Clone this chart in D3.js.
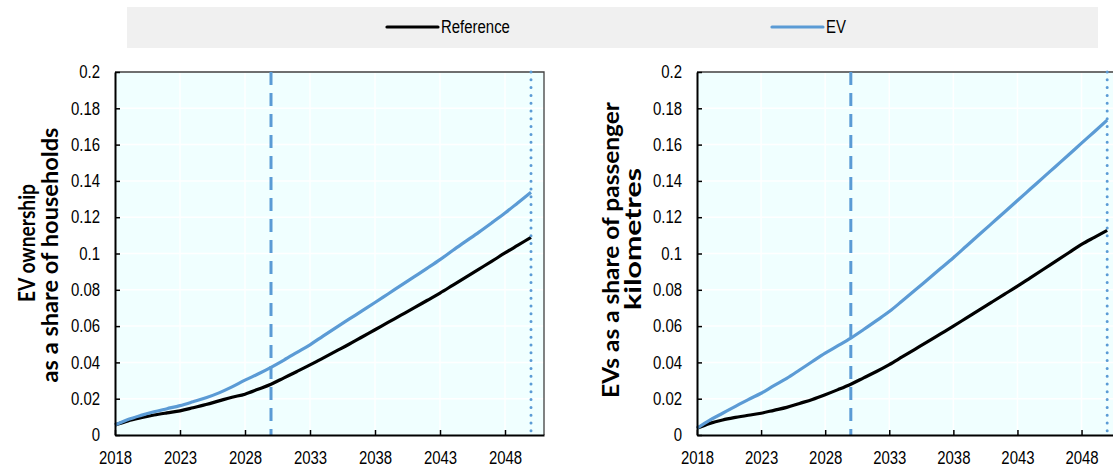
<!DOCTYPE html>
<html>
<head>
<meta charset="utf-8">
<script src="https://cdn.jsdelivr.net/npm/d3@7"></script>
<style>
  html, body { margin: 0; padding: 0; background: #ffffff; }
  svg { display: block; }
  .tick text { font-family: "Liberation Sans", Arial, sans-serif; font-size: 18px; fill: #000; }
  .legend text { font-family: "Liberation Sans", Arial, sans-serif; font-size: 18px; fill: #000; }
  .ytitle { font-family: Lato, "Open Sans", sans-serif; font-weight: bold; font-size: 22px; fill: #000; }
</style>
</head>
<body>
<svg id="chart" width="1113" height="470"></svg>
<script>
// Years 2018-2050
const years = d3.range(2018, 2051);

// Panel 1: EV ownership as a share of households
const householdsReference = [
  0.0055, 0.0078, 0.0095, 0.0110, 0.0122, 0.0133, 0.0150, 0.0168, 0.0188, 0.0208,
  0.0225, 0.0252, 0.0280, 0.0315, 0.0350, 0.0386, 0.0424, 0.0462, 0.0500, 0.0540,
  0.0580, 0.0620, 0.0660, 0.0700, 0.0741, 0.0782, 0.0826, 0.0870, 0.0914, 0.0958,
  0.1003, 0.1046, 0.1089
];
const householdsEV = [
  0.0055, 0.0085, 0.0108, 0.0128, 0.0145, 0.0162, 0.0183, 0.0205, 0.0232, 0.0265,
  0.0302, 0.0336, 0.0373, 0.0413, 0.0455, 0.0497, 0.0545, 0.0592, 0.0638, 0.0684,
  0.0730, 0.0777, 0.0824, 0.0871, 0.0918, 0.0966, 0.1018, 0.1068, 0.1118, 0.1170,
  0.1223, 0.1280, 0.1337
];

// Panel 2: EVs as a share of passenger kilometres
const pkmReference = [
  0.0037, 0.0064, 0.0083, 0.0097, 0.0109, 0.0120, 0.0136, 0.0152, 0.0174, 0.0196,
  0.0222, 0.0250, 0.0280, 0.0315, 0.0350, 0.0388, 0.0430, 0.0472, 0.0514, 0.0557,
  0.0600, 0.0644, 0.0688, 0.0732, 0.0776, 0.0820, 0.0866, 0.0912, 0.0958, 0.1004,
  0.1050, 0.1089, 0.1127
];
const pkmEV = [
  0.0037, 0.0082, 0.0120, 0.0158, 0.0195, 0.0230, 0.0272, 0.0312, 0.0358, 0.0405,
  0.0451, 0.0492, 0.0534, 0.0581, 0.0630, 0.0680, 0.0738, 0.0797, 0.0857, 0.0917,
  0.0977, 0.1040, 0.1103, 0.1166, 0.1229, 0.1292, 0.1355, 0.1418, 0.1481, 0.1544,
  0.1608, 0.1671, 0.1735
];

const xTickLabels = [2018, 2023, 2028, 2033, 2038, 2043, 2048];
const yTickLabels = [0, 0.02, 0.04, 0.06, 0.08, 0.1, 0.12, 0.14, 0.16, 0.18, 0.2];
const markerYears = { dashed: 2030, dotted: 2050 };

const seriesNames = ["Reference", "EV"];
const seriesColors = ["#000000", "#5B9BD5"];

const svg = d3.select("#chart");

// Narrow the glyphs of a text selection horizontally (condensed face look)
function condense(sel, factor) {
  sel.each(function () {
    const w = this.getComputedTextLength();
    d3.select(this).attr("textLength", w * factor).attr("lengthAdjust", "spacingAndGlyphs");
  });
}

// Legend band
const legend = svg.append("g").attr("class", "legend");
legend.append("rect")
  .attr("x", 127).attr("y", 7).attr("width", 971).attr("height", 41)
  .attr("fill", "#F0F0F0");
const legendItems = [{ x: 387 }, { x: 772 }];
seriesNames.forEach((name, i) => {
  const g = legend.append("g").attr("transform", `translate(${legendItems[i].x},27)`);
  g.append("line").attr("x1", 0).attr("x2", 51).attr("y1", 0).attr("y2", 0)
    .attr("stroke", seriesColors[i]).attr("stroke-width", 3.2).attr("stroke-linecap", "round");
  g.append("text").attr("x", 54).attr("y", 0).attr("dy", "0.36em").text(name);
});
condense(legend.selectAll("text"), 0.83);

function drawPanel(cfg) {
  const x = d3.scaleLinear().domain([2018, 2051]).range([cfg.left, cfg.right]);
  const y = d3.scaleLinear().domain([0, 0.2]).range([cfg.bottom, cfg.top]);
  const g = svg.append("g");

  // plot background
  g.append("rect")
    .attr("x", x(2018)).attr("y", y(0.2))
    .attr("width", x(2051) - x(2018)).attr("height", y(0) - y(0.2))
    .attr("fill", "#F0FFFF");

  // gridlines
  g.append("g").selectAll("line").data(yTickLabels.filter(d => d > 0)).join("line")
    .attr("x1", x(2018)).attr("x2", x(2051))
    .attr("y1", d => y(d)).attr("y2", d => y(d))
    .attr("stroke", "#ffffff").attr("stroke-width", 1.5);
  g.append("g").selectAll("line").data(xTickLabels.filter(d => d > 2018)).join("line")
    .attr("x1", d => x(d)).attr("x2", d => x(d))
    .attr("y1", y(0)).attr("y2", y(0.2))
    .attr("stroke", "#ffffff").attr("stroke-width", 1.5);

  // frame (top and right)
  g.append("path")
    .attr("d", `M${x(2018)},${y(0.2)}H${x(2051)}V${y(0)}`)
    .attr("fill", "none").attr("stroke", "#404040").attr("stroke-width", 1.3);

  // series lines
  const line = d3.line().x((d, i) => x(years[i])).y(d => y(d)).curve(d3.curveMonotoneX);
  [cfg.reference, cfg.ev].forEach((vals, i) => {
    g.append("path").datum(vals)
      .attr("d", line)
      .attr("fill", "none")
      .attr("stroke", seriesColors[i])
      .attr("stroke-width", 3.2)
      .attr("stroke-linejoin", "round");
  });

  // marker lines
  g.append("line")
    .attr("x1", x(markerYears.dashed)).attr("x2", x(markerYears.dashed))
    .attr("y1", y(0.2)).attr("y2", y(0))
    .attr("stroke", "#5B9BD5").attr("stroke-width", 3)
    .attr("stroke-dasharray", "13,8");
  g.append("line")
    .attr("x1", x(markerYears.dotted)).attr("x2", x(markerYears.dotted))
    .attr("y1", y(0.2)).attr("y2", y(0))
    .attr("stroke", "#5B9BD5").attr("stroke-width", 3)
    .attr("stroke-linecap", "round")
    .attr("stroke-dasharray", "0,7.8");

  // axes
  const yAxis = d3.axisLeft(y).tickValues(yTickLabels)
    .tickFormat(d => d3.format("")(+d.toFixed(2)))
    .tickSizeInner(-5).tickSizeOuter(0).tickPadding(15);
  const ya = g.append("g").attr("transform", `translate(${x(2018)},0)`).call(yAxis);
  ya.select(".domain").attr("stroke", "#000").attr("stroke-width", 2);
  ya.selectAll(".tick line").attr("stroke", "#000").attr("stroke-width", 1.5);
  condense(ya.selectAll(".tick text"), 0.83);

  const xAxis = d3.axisBottom(x).tickValues(xTickLabels)
    .tickFormat(d3.format("d"))
    .tickSizeInner(-5).tickSizeOuter(0).tickPadding(16);
  const xa = g.append("g").attr("transform", `translate(0,${y(0)})`).call(xAxis);
  xa.select(".domain").attr("stroke", "#000").attr("stroke-width", 2);
  xa.selectAll(".tick line").attr("stroke", "#000").attr("stroke-width", 1.5);
  condense(xa.selectAll(".tick text"), 0.83);

  // y-axis title, one rotated text per line, stretched along its run to a set length
  cfg.title.forEach((ln, i) => {
    const t = g.append("text").attr("class", "ytitle")
      .attr("text-anchor", "middle")
      .attr("dy", "0.35em")
      .text(ln);
    const k = cfg.titleLen[i] / t.node().getComputedTextLength();
    t.attr("transform", `translate(${cfg.titleX[i]},${cfg.titleY[i]}) rotate(-90) scale(${k},1)`);
  });
}

drawPanel({
  left: 115, right: 544, top: 72, bottom: 435,
  reference: householdsReference, ev: householdsEV,
  title: ["EV ownership", "as a share of households"],
  titleX: [27, 50], titleY: [243, 255], titleLen: [118, 255]
});

drawPanel({
  left: 697, right: 1120, top: 72, bottom: 435,
  reference: pkmReference, ev: pkmEV,
  title: ["EVs as a share of passenger", "kilometres"],
  titleX: [611, 633], titleY: [250, 239], titleLen: [296, 142]
});
</script>
</body>
</html>
